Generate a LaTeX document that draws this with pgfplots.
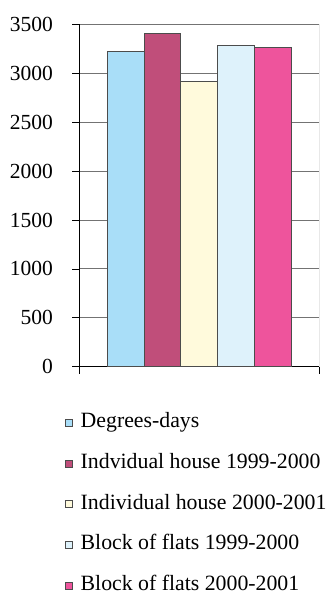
\documentclass[border=0pt]{standalone}
\usepackage{pgfplots}
\pgfplotsset{compat=1.18}
\usepackage{fontspec}
\setmainfont{Liberation Serif}
\definecolor{c1}{HTML}{A9DEF8}
\definecolor{c2}{HTML}{C04E7A}
\definecolor{c3}{HTML}{FFFADC}
\definecolor{c4}{HTML}{DEF2FB}
\definecolor{c5}{HTML}{EE549C}
\newcommand{\tl}[1]{\mbox{\rmfamily\fontsize{21.5}{25}\selectfont #1}}
\begin{document}
\begin{tikzpicture}
\begin{axis}[
  name=ax, at={(0,0)}, anchor=south west,
  scale only axis, width=240pt, height=342.4pt,
  xmin=-0.5, xmax=0.5, ymin=0, ymax=3500,
  axis x line*=bottom, axis y line*=left,
  axis line style={black, line width=0.6pt},
  ytick={0,500,1000,1500,2000,2500,3000,3500},
  yticklabels={\tl{0},\tl{500},\tl{1000},\tl{1500},\tl{2000},\tl{2500},\tl{3000},\tl{3500}},
  xtick={-0.5,0.5}, xticklabels={},
  tick align=outside, major tick length=7pt,
  tick style={black, line width=0.6pt},
  ymajorgrids, grid style={black!55, line width=0.8pt},
  yticklabel style={xshift=-16pt},
  ybar=0pt, bar width=0.154,
  legend style={draw=none, fill=none, at={(-0.06,-0.128)}, anchor=north west,
    font=\fontsize{21.8}{26}\selectfont, row sep=20pt, legend cell align=left,
    inner sep=0pt, /tikz/every odd column/.style={column sep=6pt}},
  mylegend/.style={legend image code/.code={\draw[##1, line width=0.6pt] (0pt,-5.5pt) rectangle (7pt,1.5pt);}},
]
\addplot[fill=c1, draw=black!70, line width=0.7pt, mylegend] coordinates {(0,3227)};
\addplot[fill=c2, draw=black!70, line width=0.7pt, mylegend] coordinates {(0,3411)};
\addplot[fill=c3, draw=black!70, line width=0.7pt, mylegend] coordinates {(0,2917)};
\addplot[fill=c4, draw=black!70, line width=0.7pt, mylegend] coordinates {(0,3281)};
\addplot[fill=c5, draw=black!70, line width=0.7pt, mylegend] coordinates {(0,3265)};
\legend{Degrees-days, Indvidual house 1999-2000, Individual house 2000-2001, Block of flats 1999-2000, Block of flats 2000-2001}
\draw[black!25, line width=0.8pt] (rel axis cs:1,0) -- (rel axis cs:1,1);
\end{axis}
\pgfresetboundingbox
\path (-79.3pt,-228.3pt) rectangle (248.7pt,366.7pt);
\end{tikzpicture}
\end{document}
